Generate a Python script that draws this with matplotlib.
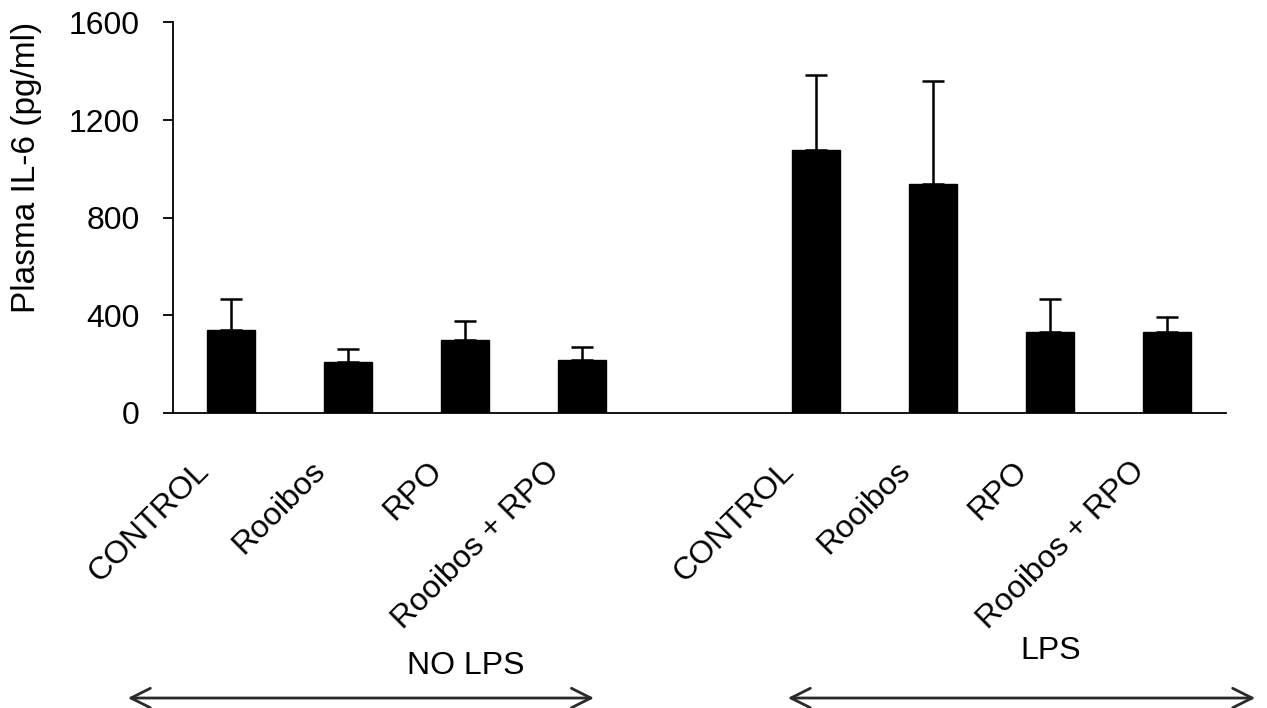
import numpy as np
import matplotlib.pyplot as plt
from matplotlib.patches import FancyArrowPatch
from matplotlib.transforms import ScaledTranslation, blended_transform_factory

plt.rcParams['font.family'] = ['Liberation Sans', 'DejaVu Sans']

# group means and SEM (pg/ml)
groups = ["NO LPS", "LPS"]
treatments = ["CONTROL", "Rooibos", "RPO", "Rooibos + RPO"]
no_lps_mean = [338, 207, 297, 215]
no_lps_sem = [129, 55, 80, 55]
lps_mean = [1077, 936, 330, 330]
lps_sem = [309, 425, 137, 63]

fig = plt.figure(figsize=(12.67, 7.08), dpi=100)
ax = fig.add_axes([0.1365, 0.4167, 0.8311, 0.5517])

# one empty slot between the two groups
pos_no = np.arange(len(treatments))
pos_lps = pos_no + len(treatments) + 1
positions = np.concatenate([pos_no, pos_lps])
means = no_lps_mean + lps_mean
sems = no_lps_sem + lps_sem

ax.bar(positions, means, width=0.41, color="black", edgecolor="black", zorder=2)
ax.errorbar(positions, means, yerr=[np.zeros(len(sems)), sems], fmt="none",
            ecolor="black", elinewidth=1.8, capsize=8, capthick=1.8, zorder=1)

ax.set_xlim(-0.5, positions[-1] + 0.5)
ax.set_ylim(0, 1600)
ax.set_yticks([0, 400, 800, 1200, 1600])
ax.tick_params(axis="y", labelsize=23, length=7, width=1.3, pad=17, direction="out")
ax.set_xticks([])

for side in ["top", "right"]:
    ax.spines[side].set_visible(False)
ax.spines["left"].set_linewidth(1.3)
ax.spines["bottom"].set_linewidth(1.3)

ax.set_ylabel("Plasma IL-6 (pg/ml)", fontsize=24)
ax.yaxis.set_label_coords(-0.124, 0.628)

# rotated category labels under each bar
base = blended_transform_factory(ax.transData, ax.transAxes)
shift = ScaledTranslation(-0.38, -0.43, fig.dpi_scale_trans)
for x, lab in zip(positions, treatments * 2):
    ax.text(x, 0, lab, transform=base + shift, rotation=45, rotation_mode="anchor",
            ha="right", va="top", fontsize=23)

# group captions and double-headed arrows
cap = blended_transform_factory(ax.transData, fig.transFigure)
ax.text(pos_no[2], 0.0593, groups[0], transform=cap, ha="center", va="center", fontsize=23)
ax.text(pos_lps[2], 0.0805, groups[1], transform=cap, ha="center", va="center", fontsize=23)

arrow = dict(arrowstyle="<->,head_length=0.7,head_width=0.35", color="#2a2a2a", lw=2)
fig.add_artist(FancyArrowPatch((0.0987, 0.0141), (0.471, 0.0141),
                               transform=fig.transFigure, mutation_scale=20, **arrow))
fig.add_artist(FancyArrowPatch((0.6196, 0.0141), (0.9929, 0.0141),
                               transform=fig.transFigure, mutation_scale=20, **arrow))

fig.savefig("out.png", dpi=100)
